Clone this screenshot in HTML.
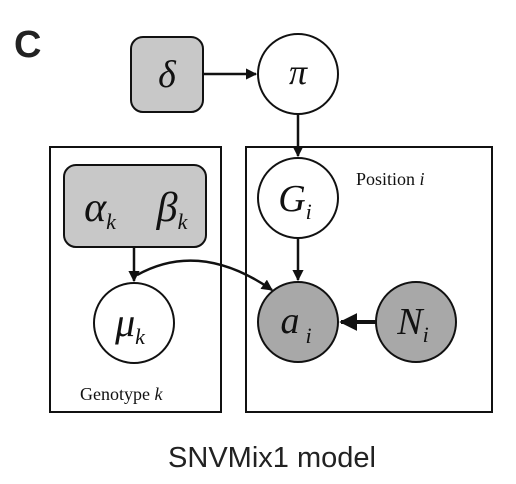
<!DOCTYPE html>
<html><head><meta charset="utf-8"><style>
html,body{margin:0;padding:0;background:#fff;}
svg{display:block;}
.m{font-family:"Liberation Serif",serif;font-style:italic;}
</style></head><body>
<svg width="516" height="484" viewBox="0 0 516 484">
<defs>
<marker id="ah" viewBox="0 0 10 10" refX="9" refY="5" markerWidth="4.5" markerHeight="4.5" orient="auto"><path d="M0,0 L10,5 L0,10 z" fill="#111"/></marker>
</defs>
<text x="14" y="57" font-family="Liberation Sans,sans-serif" font-weight="bold" font-size="38" fill="#222">C</text>
<rect x="50" y="147" width="171" height="265" fill="none" stroke="#111" stroke-width="2"/>
<rect x="246" y="147" width="246" height="265" fill="none" stroke="#111" stroke-width="2"/>
<text x="356" y="185" font-family="Liberation Serif,serif" font-size="18" fill="#111">Position <tspan font-style="italic">i</tspan></text>
<text x="80" y="400" font-family="Liberation Serif,serif" font-size="18" fill="#111">Genotype <tspan font-style="italic">k</tspan></text>
<rect x="131" y="37" width="72" height="75" rx="12" fill="#c8c8c8" stroke="#111" stroke-width="2"/>
<text x="167" y="87" text-anchor="middle" class="m" font-size="38" fill="#111">δ</text>
<circle cx="298" cy="74" r="40" fill="#fff" stroke="#111" stroke-width="2"/>
<text x="298" y="84" text-anchor="middle" class="m" font-size="36" fill="#111">π</text>
<line x1="203" y1="74" x2="256" y2="74" stroke="#111" stroke-width="2.5" marker-end="url(#ah)"/>
<line x1="298" y1="114" x2="298" y2="156" stroke="#111" stroke-width="2.5" marker-end="url(#ah)"/>
<circle cx="298" cy="198" r="40" fill="#fff" stroke="#111" stroke-width="2"/>
<text x="295" y="211" text-anchor="middle" class="m" font-size="38" fill="#111">G<tspan font-size="22" dy="8">i</tspan></text>
<line x1="298" y1="238" x2="298" y2="280" stroke="#111" stroke-width="2.5" marker-end="url(#ah)"/>
<circle cx="298" cy="322" r="40" fill="#a8a8a8" stroke="#111" stroke-width="2"/>
<text x="296" y="333" text-anchor="middle" class="m" font-size="38" fill="#111">a<tspan font-size="22" dy="10" dx="6">i</tspan></text>
<circle cx="416" cy="322" r="40" fill="#a8a8a8" stroke="#111" stroke-width="2"/>
<text x="413" y="334" text-anchor="middle" class="m" font-size="38" fill="#111">N<tspan font-size="22" dy="8">i</tspan></text>
<line x1="376" y1="322" x2="341" y2="322" stroke="#111" stroke-width="4" marker-end="url(#ah)"/>
<rect x="64" y="165" width="142" height="82" rx="12" fill="#c8c8c8" stroke="#111" stroke-width="2"/>
<text x="100" y="221" text-anchor="middle" class="m" font-size="42" fill="#111">α<tspan font-size="22" dy="8">k</tspan></text>
<text x="172" y="221" text-anchor="middle" class="m" font-size="42" fill="#111">β<tspan font-size="22" dy="8">k</tspan></text>
<line x1="134" y1="247" x2="134" y2="281" stroke="#111" stroke-width="2.5" marker-end="url(#ah)"/>
<path d="M137,275 Q200,240 272,290" fill="none" stroke="#111" stroke-width="2.5" marker-end="url(#ah)"/>
<circle cx="134" cy="323" r="40" fill="#fff" stroke="#111" stroke-width="2"/>
<text x="130" y="336" text-anchor="middle" class="m" font-size="40" fill="#111">μ<tspan font-size="22" dy="8">k</tspan></text>
<text x="272" y="467" text-anchor="middle" font-family="Liberation Sans,sans-serif" font-size="29" fill="#222">SNVMix1 model</text>
</svg>
</body></html>
